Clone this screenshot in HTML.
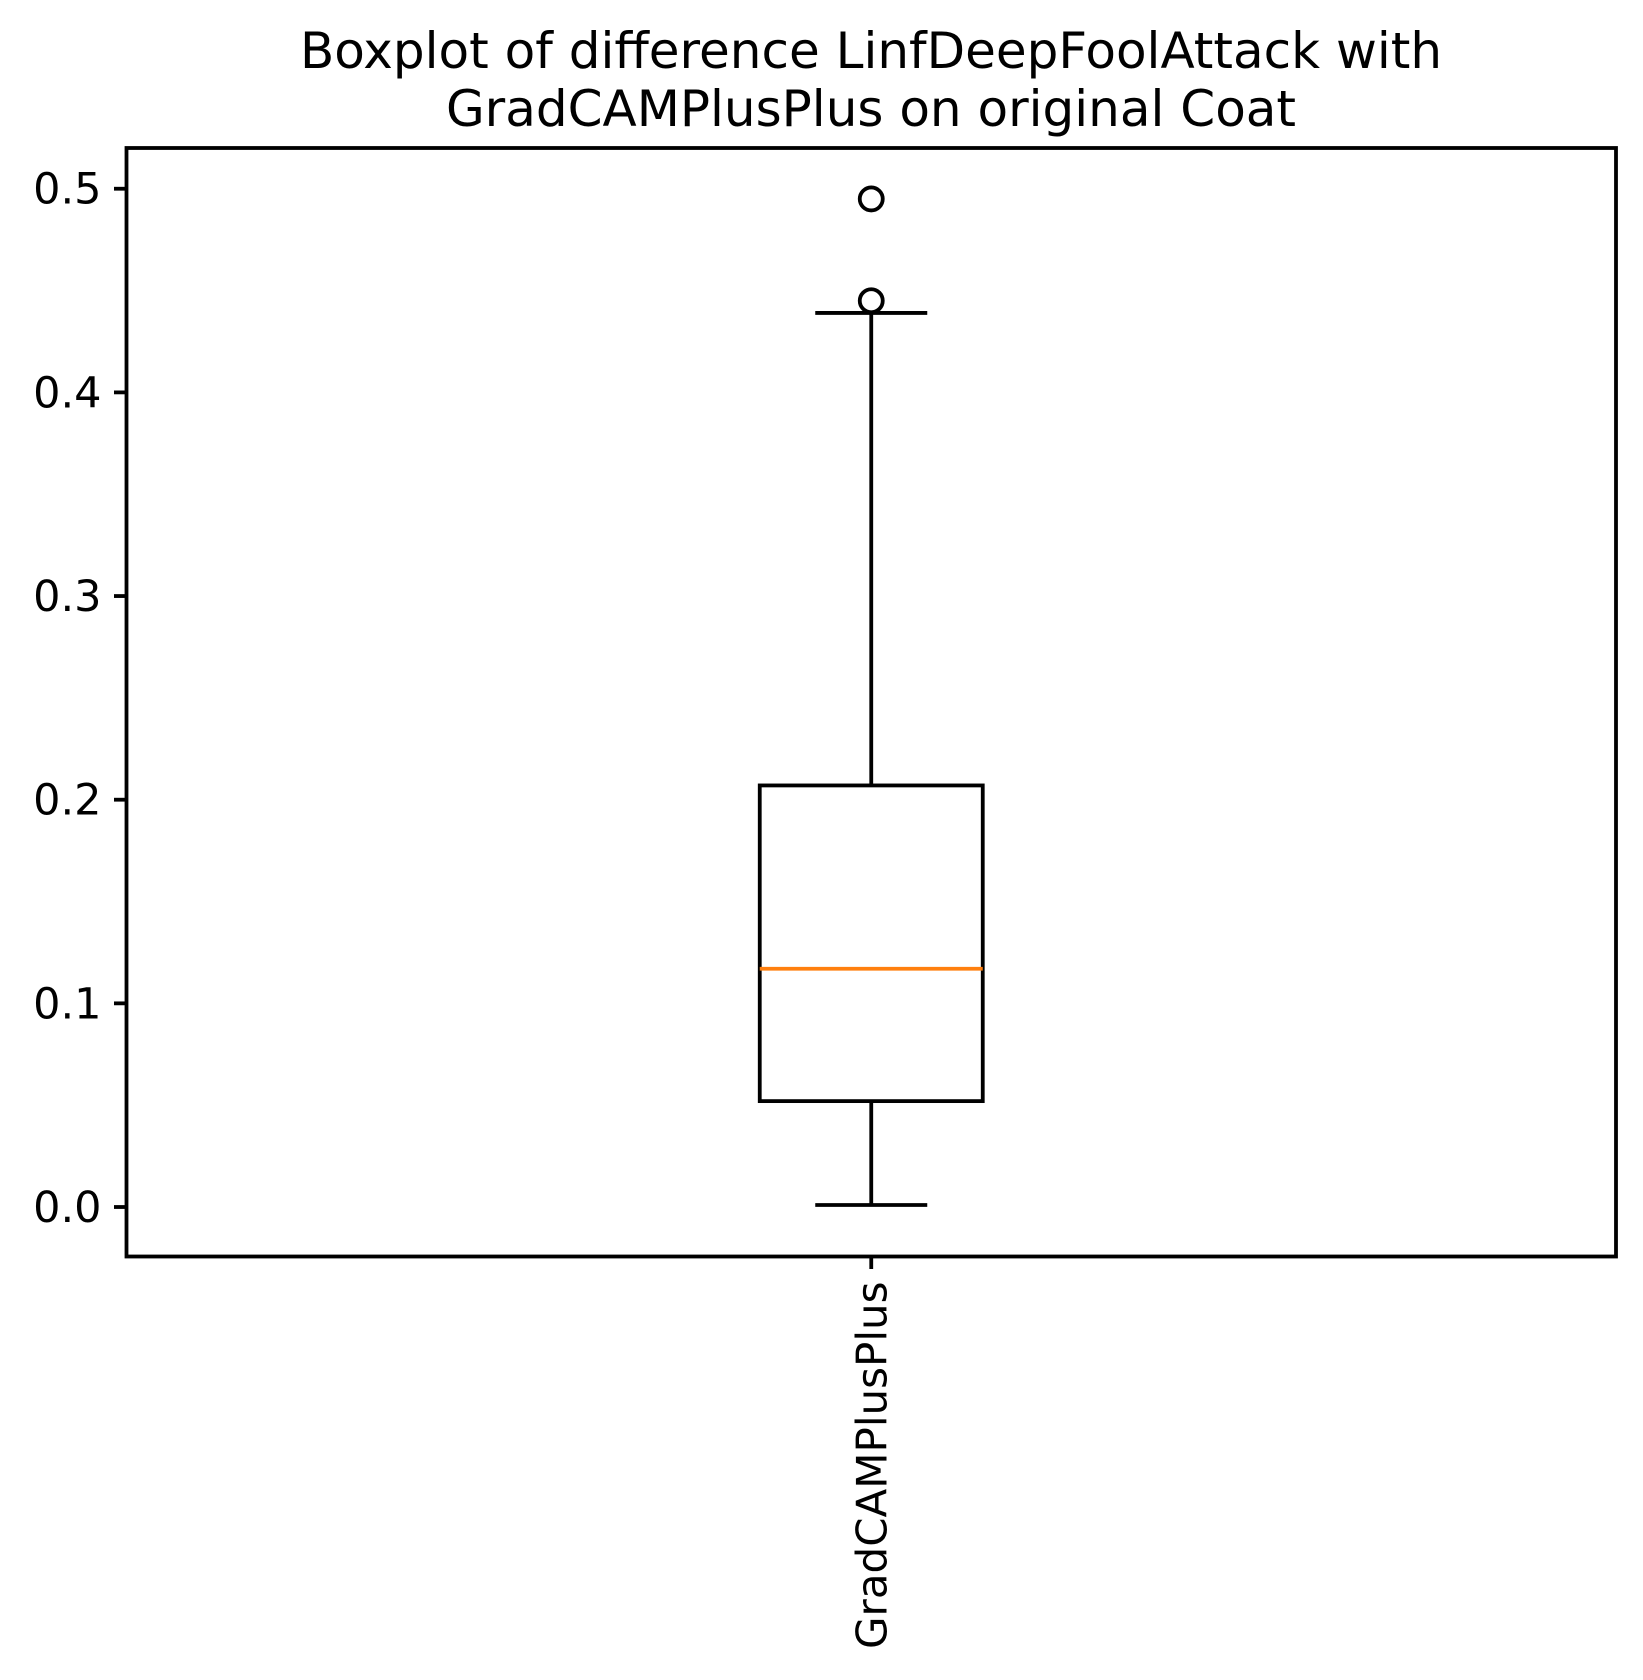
<!DOCTYPE html>
<html><head><meta charset="utf-8"><style>
html,body{margin:0;padding:0;background:#fff;}
svg{display:block;font-family:"DejaVu Sans","Liberation Sans",sans-serif;}
</style></head><body>
<svg id="chart" width="1643" height="1680" viewBox="0 0 1643 1680">
<rect width="1643" height="1680" fill="#fff"/>
<text x="871" y="68" font-size="50" text-anchor="middle">Boxplot of difference LinfDeepFoolAttack with</text>
<text x="871" y="126" font-size="50" text-anchor="middle">GradCAMPlusPlus on original Coat</text>
<g id="plot"></g>
</svg>
<script>
const categories = ["GradCAMPlusPlus"];
const whiskerLow = [0.001];
const q1 = [0.052];
const median = [0.117];
const q3 = [0.207];
const whiskerHigh = [0.439];
const outliers = [[0.495, 0.445]];
const yTicks = [0.0, 0.1, 0.2, 0.3, 0.4, 0.5];
const yTickLabels = ["0.0", "0.1", "0.2", "0.3", "0.4", "0.5"];

const L = 126.5, R = 1616, T = 148, B = 1256.5;
const yMin = -0.0243, yMax = 0.5200;
const y = v => B - (v - yMin) / (yMax - yMin) * (B - T);
const x = i => L + (i + 0.5) / categories.length * (R - L);
const NS = "http://www.w3.org/2000/svg";
const g = document.getElementById('plot');
const SW = 3.8;
function mk(tag, attrs) {
  const e = document.createElementNS(NS, tag);
  for (const k in attrs) e.setAttribute(k, attrs[k]);
  g.appendChild(e);
  return e;
}
yTicks.forEach((t, i) => {
  const tk = mk('line', {x1: L - 12.5, x2: L, y1: y(t), y2: y(t), stroke: '#000', 'stroke-width': SW});
  
  
  const lb = mk('text', {x: L - 25, y: y(t) + 15, 'font-size': 43, 'text-anchor': 'end'});
  lb.textContent = yTickLabels[i];
  
  
});
const hw = 111.5, capw = 56;
categories.forEach((c, i) => {
  const cx = x(i);
  const w1 = mk('line', {x1: cx, x2: cx, y1: y(q1[i]), y2: y(whiskerLow[i]), stroke: '#000', 'stroke-width': SW});
  
  
  const w2 = mk('line', {x1: cx, x2: cx, y1: y(q3[i]), y2: y(whiskerHigh[i]), stroke: '#000', 'stroke-width': SW});
  
  
  const c1 = mk('line', {x1: cx - capw, x2: cx + capw, y1: y(whiskerLow[i]), y2: y(whiskerLow[i]), stroke: '#000', 'stroke-width': SW});
  
  
  const c2 = mk('line', {x1: cx - capw, x2: cx + capw, y1: y(whiskerHigh[i]), y2: y(whiskerHigh[i]), stroke: '#000', 'stroke-width': SW});
  
  
  const bx = mk('rect', {x: cx - hw, y: y(q3[i]), width: 2 * hw, height: y(q1[i]) - y(q3[i]), fill: 'none', stroke: '#000', 'stroke-width': SW});
  
  
  const md = mk('line', {x1: cx - hw, x2: cx + hw, y1: y(median[i]), y2: y(median[i]), stroke: '#ff7f0e', 'stroke-width': SW});
  
  
  outliers[i].forEach(v => {
    const o = mk('circle', {cx: cx, cy: y(v), r: 11.5, fill: 'none', stroke: '#000', 'stroke-width': SW});
    
    
  });
  const tk = mk('line', {x1: cx, x2: cx, y1: B, y2: B + 12.5, stroke: '#000', 'stroke-width': SW});
  
  
  const lb = mk('text', {x: 0, y: 0, 'font-size': 42, 'text-anchor': 'end', transform: 'translate(' + (cx + 15) + ',' + (B + 25) + ') rotate(-90)'});
  lb.textContent = c;
  
  
});
const fr = mk('rect', {x: L, y: T, width: R - L, height: B - T, fill: 'none', stroke: '#000', 'stroke-width': SW});


</script>
</body></html>
